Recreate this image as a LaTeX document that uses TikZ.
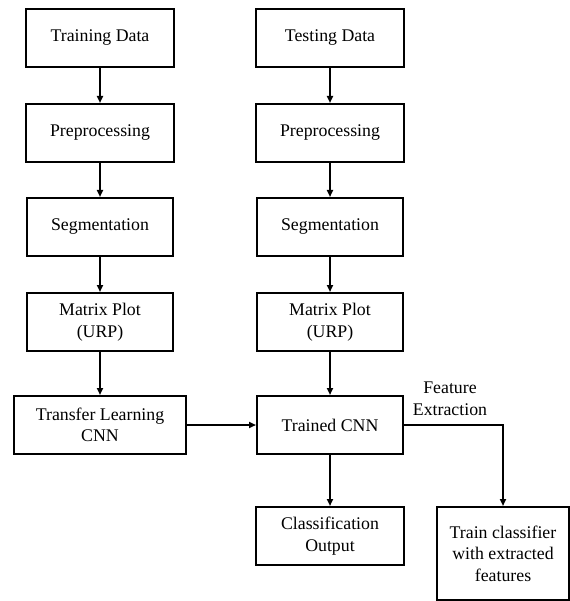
\documentclass[tikz,border=0pt]{standalone}
\usepackage{fontspec}
\setmainfont{Liberation Serif}
\usetikzlibrary{arrows.meta}

\begin{document}
\begin{tikzpicture}[x=1pt, y=-1pt, >={Triangle[length=7pt, width=6pt]},
  box/.style={draw, line width=2pt, inner sep=0pt, align=center,
    minimum width=148pt, minimum height=58pt,
    font=\fontsize{17.8}{21.5}\selectfont},
  flow/.style={->, line width=2pt}]
  \useasboundingbox (0,0) rectangle (569,601);
  % training column
  \node[box] (trdata) at (100, 38)  {Training Data};
  \node[box] (trpre)  at (100, 133) {Preprocessing};
  \node[box, minimum width=146pt] (trseg) at (100, 227) {Segmentation};
  \node[box, minimum width=146pt] (trurp) at (100, 322) {Matrix Plot\\(URP)};
  \node[box, minimum width=172pt] (transfer) at (100, 425) {Transfer Learning\\CNN};
  % testing column
  \node[box] (tsdata) at (330, 38)  {Testing Data};
  \node[box] (tspre)  at (330, 133) {Preprocessing};
  \node[box, minimum width=146pt] (tsseg) at (330, 227) {Segmentation};
  \node[box, minimum width=146pt] (tsurp) at (330, 322) {Matrix Plot\\(URP)};
  \node[box, minimum width=146pt] (cnn) at (330, 425) {Trained CNN};
  \node[box] (output) at (330, 536) {Classification\\Output};
  \node[box, minimum width=132pt, minimum height=93pt] (clf) at (503, 553.5) {Train classifier\\with extracted\\features};
  \node[font=\fontsize{17.8}{21.5}\selectfont, align=center] (featlbl) at (450, 399) {Feature\\Extraction};
  % connectors
  \draw[flow] (trdata) -- (trpre);
  \draw[flow] (trpre) -- (trseg);
  \draw[flow] (trseg) -- (trurp);
  \draw[flow] (trurp) -- (transfer);
  \draw[flow] (tsdata) -- (tspre);
  \draw[flow] (tspre) -- (tsseg);
  \draw[flow] (tsseg) -- (tsurp);
  \draw[flow] (tsurp) -- (cnn);
  \draw[flow] (transfer.east) -- (transfer.east -| cnn.west);
  \draw[flow] (cnn) -- (output);
  \draw[flow] (cnn.east) -| (clf.north);
\end{tikzpicture}
\end{document}
